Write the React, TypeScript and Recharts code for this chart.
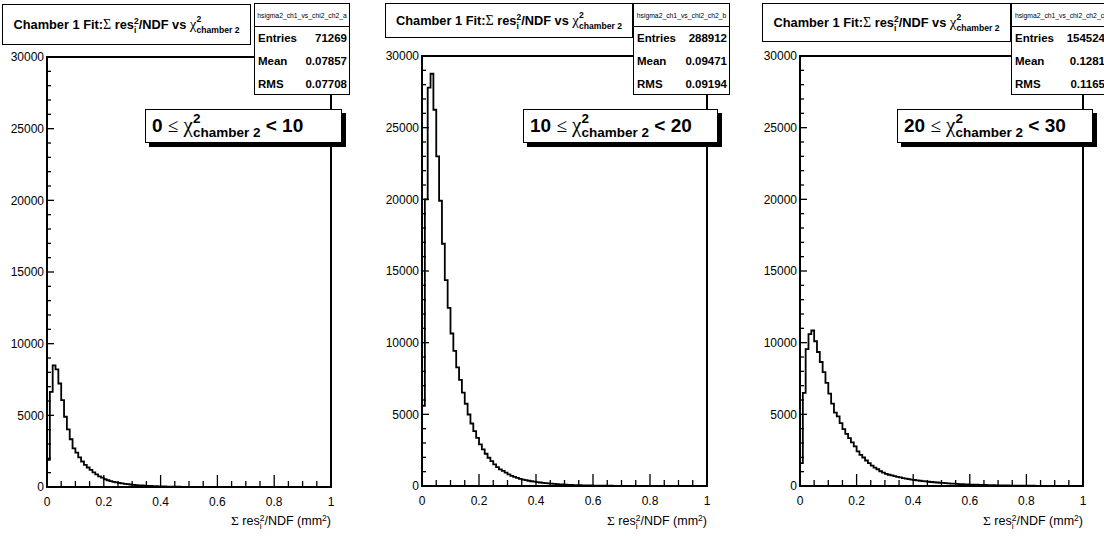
import React from 'react';
import { LineChart, Line, XAxis, YAxis, ReferenceArea } from 'recharts';

// ---------------- data ----------------
// bin contents, 100 bins of width 0.01 on [0, 1]
const binsA = [
  1900, 6640, 8490, 8210, 7220, 6060, 4900, 4020, 3330, 2700,
  2400, 2060, 1780, 1550, 1360, 1200, 1020, 880, 740, 650,
  540, 470, 410, 360, 320, 280, 250, 220, 195, 175,
  155, 135, 120, 105, 92, 80, 70, 61, 53, 46,
  40, 35, 30, 26, 22, 19, 16, 14, 12, 10,
  8, 7, 6, 5, 4, 4, 3, 3, 2, 2,
  2, 1, 1, 1, 1, 1, 1, 1, 1, 1,
  0, 0, 0, 0, 0, 0, 0, 0, 0, 0,
  0, 0, 0, 0, 0, 0, 0, 0, 0, 0,
  0, 0, 0, 0, 0, 0, 0, 0, 0, 0,
];
const binsB = [
  5600, 20000, 27800, 28760, 26250, 23000, 19900, 16900, 14360, 12430,
  10640, 9430, 8280, 7400, 6510, 5740, 4990, 4360, 3830, 3360,
  2900, 2550, 2250, 1970, 1740, 1510, 1320, 1160, 1050, 930,
  810, 700, 630, 560, 500, 450, 405, 365, 330, 300,
  270, 245, 220, 198, 178, 160, 144, 130, 117, 105,
  95, 85, 76, 68, 61, 55, 49, 44, 40, 36,
  32, 29, 26, 23, 21, 19, 17, 15, 13, 12,
  11, 10, 9, 8, 7, 6, 6, 5, 5, 4,
  4, 3, 3, 3, 2, 2, 2, 2, 1, 1,
  1, 1, 1, 1, 1, 1, 0, 0, 0, 0,
];
const binsC = [
  1600, 6500, 9550, 10600, 10850, 10100, 9350, 8650, 7950, 7200,
  6450, 5750, 5120, 4860, 4390, 3970, 3640, 3340, 3040, 2760,
  2410, 2170, 1990, 1780, 1590, 1420, 1280, 1170, 1030, 930,
  840, 785, 735, 685, 640, 595, 555, 520, 485, 450,
  420, 392, 366, 342, 319, 298, 278, 260, 243, 227,
  212, 198, 184, 171, 159, 148, 137, 127, 118, 110,
  102, 94, 87, 81, 75, 69, 64, 59, 54, 50,
  46, 42, 39, 36, 33, 30, 28, 26, 24, 22,
  20, 18, 17, 15, 14, 13, 12, 11, 10, 9,
  8, 7, 7, 6, 6, 5, 5, 4, 4, 4,
];
const allBins = [binsA, binsB, binsC];

const histNames = ['hsigma2_ch1_vs_chi2_ch2_a', 'hsigma2_ch1_vs_chi2_ch2_b', 'hsigma2_ch1_vs_chi2_ch2_c'];
const entriesValues = ['71269', '288912', '154524'];
const meanValues = ['0.07857', '0.09471', '0.1281'];
const rmsValues = ['0.07708', '0.09194', '0.1165'];
const chiLow = ['0', '10', '20'];
const chiHigh = ['10', '20', '30'];

const BIN_WIDTH = 0.01;
const X_DOMAIN: [number, number] = [0, 1];
const Y_DOMAIN: [number, number] = [0, 30000];

const yTicks = [
  0, 1000, 2000, 3000, 4000, 5000, 6000, 7000, 8000, 9000, 10000,
  11000, 12000, 13000, 14000, 15000, 16000, 17000, 18000, 19000, 20000,
  21000, 22000, 23000, 24000, 25000, 26000, 27000, 28000, 29000, 30000,
];
const yLabelTicks = [0, 5000, 10000, 15000, 20000, 25000, 30000];
const xTicks = [
  0, 0.05, 0.1, 0.15, 0.2, 0.25, 0.3, 0.35, 0.4, 0.45, 0.5,
  0.55, 0.6, 0.65, 0.7, 0.75, 0.8, 0.85, 0.9, 0.95, 1,
];
const xLabelTicks = [0, 0.2, 0.4, 0.6, 0.8, 1];

// ---------------- layout ----------------
const W = 368;
const H = 536;
const layout = [
  { chartLeft: 0, plotL: 47, plotR: 331, top: 57, bottom: 487,
    title: { x: 2, y: 4, w: 249, h: 41 }, stats: { x: 254, y: 3, w: 96, h: 92 }, range: { x: 145, y: 109, w: 197, h: 34 } },
  { chartLeft: 368, plotL: 54, plotR: 339, top: 56, bottom: 486,
    title: { x: 385, y: 3, w: 248, h: 35 }, stats: { x: 633, y: 3, w: 97, h: 92 }, range: { x: 523, y: 109, w: 195, h: 34 } },
  { chartLeft: 736, plotL: 64, plotR: 347, top: 56, bottom: 486,
    title: { x: 762, y: 3, w: 249, h: 39 }, stats: { x: 1011, y: 3, w: 97, h: 92 }, range: { x: 897, y: 109, w: 196, h: 34 } },
];

const SANS = '"Liberation Sans", Arial, Helvetica, sans-serif';
const SERIF = '"Liberation Serif", "Times New Roman", serif';

function buildData(bins: number[]) {
  const rows = bins.map((v, i) => ({ x: Math.round(i * BIN_WIDTH * 100) / 100, v }));
  rows.push({ x: X_DOMAIN[1], v: bins[bins.length - 1] });
  return rows;
}

const isIn = (list: number[], v: number) => list.some((t) => Math.abs(t - v) < 1e-6);

function YTick(props: any) {
  const { x, y, payload } = props;
  const v = payload.value;
  const major = isIn(yLabelTicks, v);
  return (
    <g>
      <line x1={x} x2={x + (major ? 7 : 4)} y1={y} y2={y} stroke="#000" strokeWidth={1.3} />
      {major && (
        <text x={x - 3} y={y} dy={4.3} textAnchor="end" fontSize={12} fontFamily={SANS} fill="#000">
          {String(v)}
        </text>
      )}
    </g>
  );
}

function XTick(props: any) {
  const { x, y, payload } = props;
  const v = payload.value;
  const major = isIn(xLabelTicks, v);
  return (
    <g>
      <line x1={x} x2={x} y1={y} y2={y - (major ? 12 : 6)} stroke="#000" strokeWidth={1.3} />
      {major && (
        <text x={x} y={y + 19} textAnchor="middle" fontSize={12} fontFamily={SANS} fill="#000">
          {String(v)}
        </text>
      )}
    </g>
  );
}

function SubSup({ sup, sub, fs, up, down, wide, bold }: any) {
  const base: React.CSSProperties = {
    fontSize: fs, lineHeight: 1, fontWeight: bold ? 'bold' : 'normal', whiteSpace: 'nowrap',
    position: 'relative', display: 'inline-block', fontFamily: SANS,
  };
  if (wide === 'sub') {
    return (
      <span style={base}>
        <span style={{ position: 'absolute', left: 0, top: -up }}>{sup}</span>
        <span style={{ position: 'relative', top: down }}>{sub}</span>
      </span>
    );
  }
  return (
    <span style={base}>
      <span style={{ position: 'relative', top: -up }}>{sup}</span>
      <span style={{ position: 'absolute', left: 0, top: down }}>{sub}</span>
    </span>
  );
}

const border = '1.5px solid #000';

function Panel({ idx }: { idx: number }) {
  const p = layout[idx];
  const data = buildData(allBins[idx]);
  const t = p.title;
  const s = p.stats;
  const r = p.range;
  const rowTop = [34, 57, 80];
  const rows = [
    ['Entries', entriesValues[idx]],
    ['Mean', meanValues[idx]],
    ['RMS', rmsValues[idx]],
  ];
  return (
    <>
      <div style={{ position: 'absolute', left: p.chartLeft, top: 0 }}>
        <LineChart width={W} height={H} data={data} margin={{ top: p.top, right: W - p.plotR, bottom: 0, left: 0 }}>
          <XAxis
            dataKey="x" type="number" domain={X_DOMAIN} ticks={xTicks} interval={0}
            tickSize={0} tickMargin={0} height={H - p.bottom}
            axisLine={{ stroke: '#000', strokeWidth: 2 }} tickLine={false}
            tick={(tp: any) => <XTick {...tp} />} allowDataOverflow
          />
          <YAxis
            type="number" domain={Y_DOMAIN} ticks={yTicks} interval={0}
            tickSize={0} tickMargin={0} width={p.plotL}
            axisLine={{ stroke: '#000', strokeWidth: 2 }} tickLine={false}
            tick={(tp: any) => <YTick {...tp} />} allowDataOverflow
          />
          <ReferenceArea x1={X_DOMAIN[0]} x2={X_DOMAIN[1]} y1={Y_DOMAIN[0]} y2={Y_DOMAIN[1]}
            fill="none" fillOpacity={0} stroke="#000" strokeWidth={2} />
          <Line type="stepAfter" dataKey="v" stroke="#000" strokeWidth={1.8} dot={false}
            isAnimationActive={false} />
        </LineChart>
      </div>

      {/* title */}
      <div style={{
        position: 'absolute', left: t.x, top: t.y, width: t.w, height: t.h, border, boxSizing: 'border-box',
        background: '#fff', display: 'flex', alignItems: 'center', justifyContent: 'center',
        fontFamily: SANS, fontSize: 12.8, whiteSpace: 'nowrap', color: '#000',
      }}>
        <span>
          <b>Chamber 1 Fit:</b>
          <span style={{ fontFamily: SERIF, fontSize: 14 }}>Σ </span>
          <b>res</b>
          <SubSup sup="2" sub="i" fs={8.5} up={5} down={4} wide="sup" bold />
          <b>/NDF vs </b>
          <span style={{ fontFamily: SERIF, fontSize: 15 }}>χ</span>
          <SubSup sup="2" sub="chamber 2" fs={8.6} up={7} down={4} wide="sub" bold />
        </span>
      </div>

      {/* stats box */}
      <div style={{
        position: 'absolute', left: s.x, top: s.y, width: s.w, height: s.h, border, boxSizing: 'border-box',
        background: '#fff', fontFamily: SANS, color: '#000',
      }}>
        <div style={{
          height: 22, borderBottom: border, fontSize: 6.8, display: 'flex', alignItems: 'center',
          justifyContent: 'center', whiteSpace: 'nowrap',
        }}>
          {histNames[idx]}
        </div>
        {rows.map((row, k) => (
          <div key={k} style={{
            position: 'absolute', left: 3, right: 2, top: rowTop[k] - 8, height: 16, lineHeight: '16px',
            display: 'flex', justifyContent: 'space-between', fontSize: 11.5, fontWeight: 'bold', whiteSpace: 'nowrap',
          }}>
            <span>{row[0]}</span>
            <span>{row[1]}</span>
          </div>
        ))}
      </div>

      {/* chi2 range label */}
      <div style={{
        position: 'absolute', left: r.x, top: r.y, width: r.w, height: r.h, border, boxSizing: 'border-box',
        background: '#fff', boxShadow: '4px 4px 0 #000', fontFamily: SANS, color: '#000',
        whiteSpace: 'nowrap', lineHeight: `${r.h - 3}px`, paddingLeft: 6,
      }}>
        <b style={{ fontSize: 19 }}>{chiLow[idx]} </b>
        <span style={{ fontFamily: SERIF, fontSize: 19 }}>≤</span>
        <span style={{ fontFamily: SERIF, fontSize: 21 }}> χ</span>
        <SubSup sup="2" sub="chamber 2" fs={13.5} up={9} down={5} wide="sub" bold />
        <b style={{ fontSize: 19 }}> &lt; {chiHigh[idx]}</b>
      </div>

      {/* x axis title */}
      <div style={{
        position: 'absolute', left: p.chartLeft + p.plotR - 200, top: 513, width: 200, textAlign: 'right',
        fontFamily: SANS, fontSize: 12.5, lineHeight: '15px', whiteSpace: 'nowrap', color: '#000',
      }}>
        <span style={{ fontFamily: SERIF, fontSize: 13.5 }}>Σ</span> res
        <SubSup sup="2" sub="i" fs={8.5} up={4.5} down={3.5} wide="sup" />
        /NDF (mm
        <SubSup sup="2" sub="" fs={8.5} up={4.5} down={3.5} wide="sup" />
        )
      </div>
    </>
  );
}

export default function App() {
  return (
    <div style={{
      position: 'absolute', left: 0, top: 0, width: 1104, height: 536, background: '#fff', overflow: 'hidden',
    }}>
      <Panel idx={0} />
      <Panel idx={1} />
      <Panel idx={2} />
    </div>
  );
}
